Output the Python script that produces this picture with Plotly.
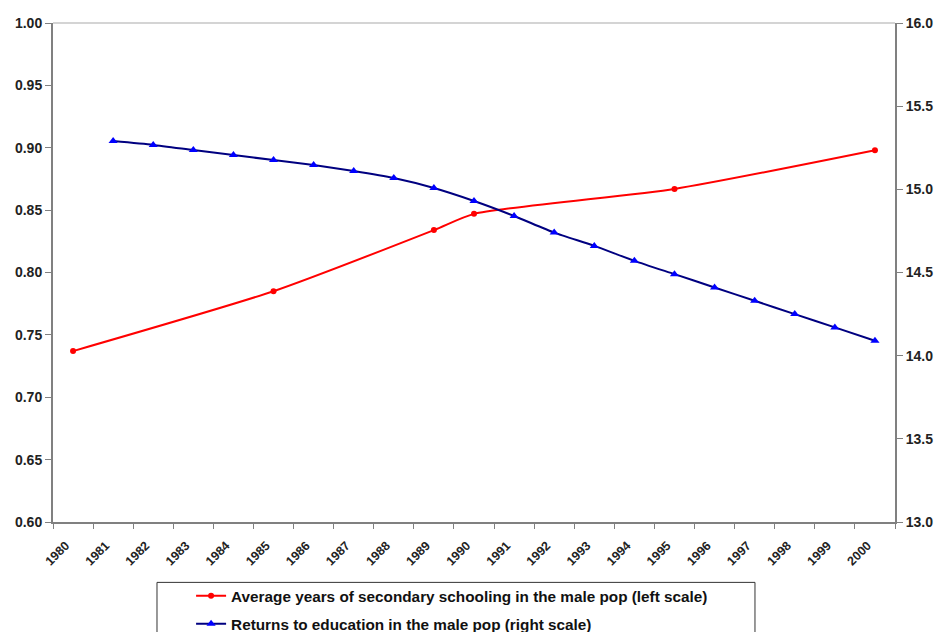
import plotly.graph_objects as go

years = [str(y) for y in range(1980, 2001)]

# Average years of secondary schooling (left scale); observed years only
schooling = [0.737, None, None, None, None, 0.785, None, None, None, 0.834,
             0.847, None, None, None, None, 0.867, None, None, None, None, 0.898]

# Returns to education (right scale), 1981 onward
returns = [None, 15.29, 15.267, 15.236, 15.206, 15.176, 15.146, 15.110, 15.068,
           15.008, 14.93, 14.84, 14.74, 14.66, 14.57, 14.49, 14.41, 14.33,
           14.25, 14.17, 14.09]

left_ticks = [0.60, 0.65, 0.70, 0.75, 0.80, 0.85, 0.90, 0.95, 1.00]
right_ticks = [13.0, 13.5, 14.0, 14.5, 15.0, 15.5, 16.0]

FONT = "Arial, Liberation Sans, sans-serif"
AXIS_GREY = "#808080"

# trailing no-break spaces nudge the slanted year labels down-left of their tick
year_labels = [y + "\u00a0" * 3 for y in years]

fig = go.Figure()
fig.add_trace(go.Scatter(
    x=years, y=schooling, name="Average years of secondary schooling in the male pop (left scale)",
    mode="lines+markers", connectgaps=True,
    line=dict(color="#FF0000", width=2, shape="spline", smoothing=0.6),
    marker=dict(color="#FF0000", size=6, symbol="circle"),
    legendgroup="a",
))
fig.add_trace(go.Scatter(
    x=years, y=returns, name="Returns to education in the male pop (right scale)",
    mode="lines+markers", connectgaps=True, yaxis="y2",
    line=dict(color="#000080", width=2, shape="spline", smoothing=0.6),
    marker=dict(color="#0000FF", size=8, symbol="triangle-up"),
    legendgroup="b",
))

fig.update_layout(
    width=940, height=632,
    margin=dict(l=53, r=45, t=23, b=110, autoexpand=False),
    paper_bgcolor="white", plot_bgcolor="white",
    font=dict(family=FONT, color="#222222"),
    showlegend=True,
    legend=dict(
        x=0.164, y=-0.115, xanchor="left", yanchor="top",
        font=dict(family=FONT, size=15.3, color="#111111", weight="bold"),
        bgcolor="rgba(0,0,0,0)", borderwidth=0,
        traceorder="grouped", tracegroupgap=5,
    ),
    xaxis=dict(
        type="category", categoryorder="array", categoryarray=years,
        tickvals=years, ticktext=year_labels,
        range=[-0.5, 20.5], tickson="boundaries",
        showline=True, linecolor=AXIS_GREY, linewidth=2,
        ticks="outside", ticklen=5, tickcolor=AXIS_GREY, tickwidth=1,
        tickangle=-45, ticklabelstandoff=2,
        tickfont=dict(family=FONT, size=12.5, color="#222222", weight="bold"),
        showgrid=False, zeroline=False, automargin=False,
    ),
    yaxis=dict(
        range=[0.60, 1.00], tickvals=left_ticks, tickformat=".2f",
        showline=True, linecolor=AXIS_GREY, linewidth=2,
        ticks="outside", ticklen=6, tickcolor=AXIS_GREY, tickwidth=1,
        tickfont=dict(family=FONT, size=14, color="#222222", weight="bold"),
        showgrid=False, zeroline=False, automargin=False,
    ),
    yaxis2=dict(
        range=[13.0, 16.0], tickvals=right_ticks, tickformat=".1f",
        overlaying="y", side="right",
        showline=True, linecolor=AXIS_GREY, linewidth=2,
        ticks="outside", ticklen=6, tickcolor=AXIS_GREY, tickwidth=1,
        tickfont=dict(family=FONT, size=14, color="#222222", weight="bold"),
        showgrid=False, zeroline=False, automargin=False,
    ),
    shapes=[
        # light top border of the plot area
        dict(type="line", xref="paper", yref="paper", x0=0, x1=1, y0=1, y1=1,
             line=dict(color="#D4D4D4", width=2), layer="below"),
        # legend frame
        dict(type="rect", xref="paper", yref="paper", x0=0.1235, x1=0.8337,
             y0=-0.23, y1=-0.121, line=dict(color="#333333", width=1),
             fillcolor="rgba(0,0,0,0)"),
    ],
)

fig.write_html("out.html")
